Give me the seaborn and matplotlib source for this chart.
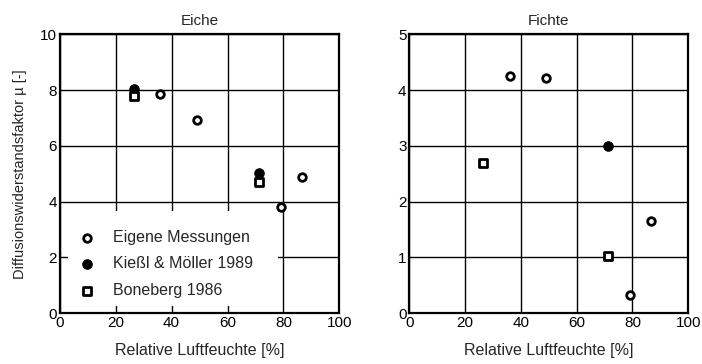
import matplotlib
matplotlib.use("Agg")
import matplotlib.pyplot as plt
from matplotlib.patches import Rectangle
import seaborn as sns
import pandas as pd

sns.set_theme(style="white")
plt.rcParams["font.family"] = ["Liberation Sans", "DejaVu Sans"]

series_names = ["Eigene Messungen", "Kießl & Möller 1989", "Boneberg 1986"]

# Eiche (oak)
eiche_eigene_x = [36.0, 49.0, 79.0, 86.6]
eiche_eigene_y = [7.85, 6.93, 3.82, 4.87]
eiche_kiessl_x = [26.6, 71.4]
eiche_kiessl_y = [8.03, 5.03]
eiche_boneberg_x = [26.6, 71.4]
eiche_boneberg_y = [7.80, 4.69]

# Fichte (spruce)
fichte_eigene_x = [36.0, 49.1, 79.0, 86.5]
fichte_eigene_y = [4.25, 4.21, 0.33, 1.65]
fichte_kiessl_x = [71.4]
fichte_kiessl_y = [3.00]
fichte_boneberg_x = [26.6, 71.4]
fichte_boneberg_y = [2.70, 1.02]

x_ticks = [0, 20, 40, 60, 80, 100]
eiche_y_ticks = [0, 2, 4, 6, 8, 10]
fichte_y_ticks = [0, 1, 2, 3, 4, 5]

styles = {
    "Eigene Messungen": dict(marker="o", facecolor="white", s=30, linewidth=2.0),
    "Kießl & Möller 1989": dict(marker="o", facecolor="black", s=46, linewidth=0.8),
    "Boneberg 1986": dict(marker="s", facecolor="white", s=30, linewidth=2.0),
}


def panel(ax, title, data, y_ticks, with_legend):
    for name, (xs, ys) in zip(series_names, data):
        df = pd.DataFrame({"x": xs, "y": ys})
        st = styles[name]
        sns.scatterplot(data=df, x="x", y="y", ax=ax, marker=st["marker"],
                        s=st["s"], facecolor=st["facecolor"], edgecolor="black",
                        linewidth=st["linewidth"], label=name, zorder=3,
                        legend=with_legend, clip_on=False)
    ax.set_xlim(0, 100)
    ax.set_ylim(y_ticks[0], y_ticks[-1])
    ax.set_xticks(x_ticks)
    ax.set_yticks(y_ticks)
    ax.grid(True, color="black", linewidth=1.0)
    ax.set_axisbelow(True)
    for sp in ax.spines.values():
        sp.set_color("black")
        sp.set_linewidth(1.6)
    ax.tick_params(axis="both", length=0, pad=2, labelsize=11, colors="black")
    ax.set_title(title, fontsize=11, pad=7)
    ax.set_xlabel("Relative Luftfeuchte [%]", fontsize=11.5, labelpad=9)
    ax.set_ylabel("")


fig = plt.figure(figsize=(7.02, 3.64), dpi=100)
ax1 = fig.add_axes([0.0848, 0.1393, 0.3988, 0.7665])
ax2 = fig.add_axes([0.5830, 0.1393, 0.3974, 0.7665])

panel(ax1, "Eiche",
      [(eiche_eigene_x, eiche_eigene_y), (eiche_kiessl_x, eiche_kiessl_y),
       (eiche_boneberg_x, eiche_boneberg_y)],
      eiche_y_ticks, True)
panel(ax2, "Fichte",
      [(fichte_eigene_x, fichte_eigene_y), (fichte_kiessl_x, fichte_kiessl_y),
       (fichte_boneberg_x, fichte_boneberg_y)],
      fichte_y_ticks, False)

ax1.set_ylabel("Diffusionswiderstandsfaktor µ [-]", fontsize=10.5, labelpad=9)

# white panel behind the legend that masks the grid
ax1.add_patch(Rectangle((0.03, 0.025), 0.75, 0.34, transform=ax1.transAxes,
                        facecolor="white", edgecolor="none", zorder=2))

leg = ax1.legend(loc="lower left", bbox_to_anchor=(0.07, 0.055),
                 borderaxespad=0, frameon=False, fontsize=11.5,
                 handletextpad=1.15, labelspacing=0.72, borderpad=0,
                 handlelength=1.0)

fig.savefig("out.png", dpi=100)
